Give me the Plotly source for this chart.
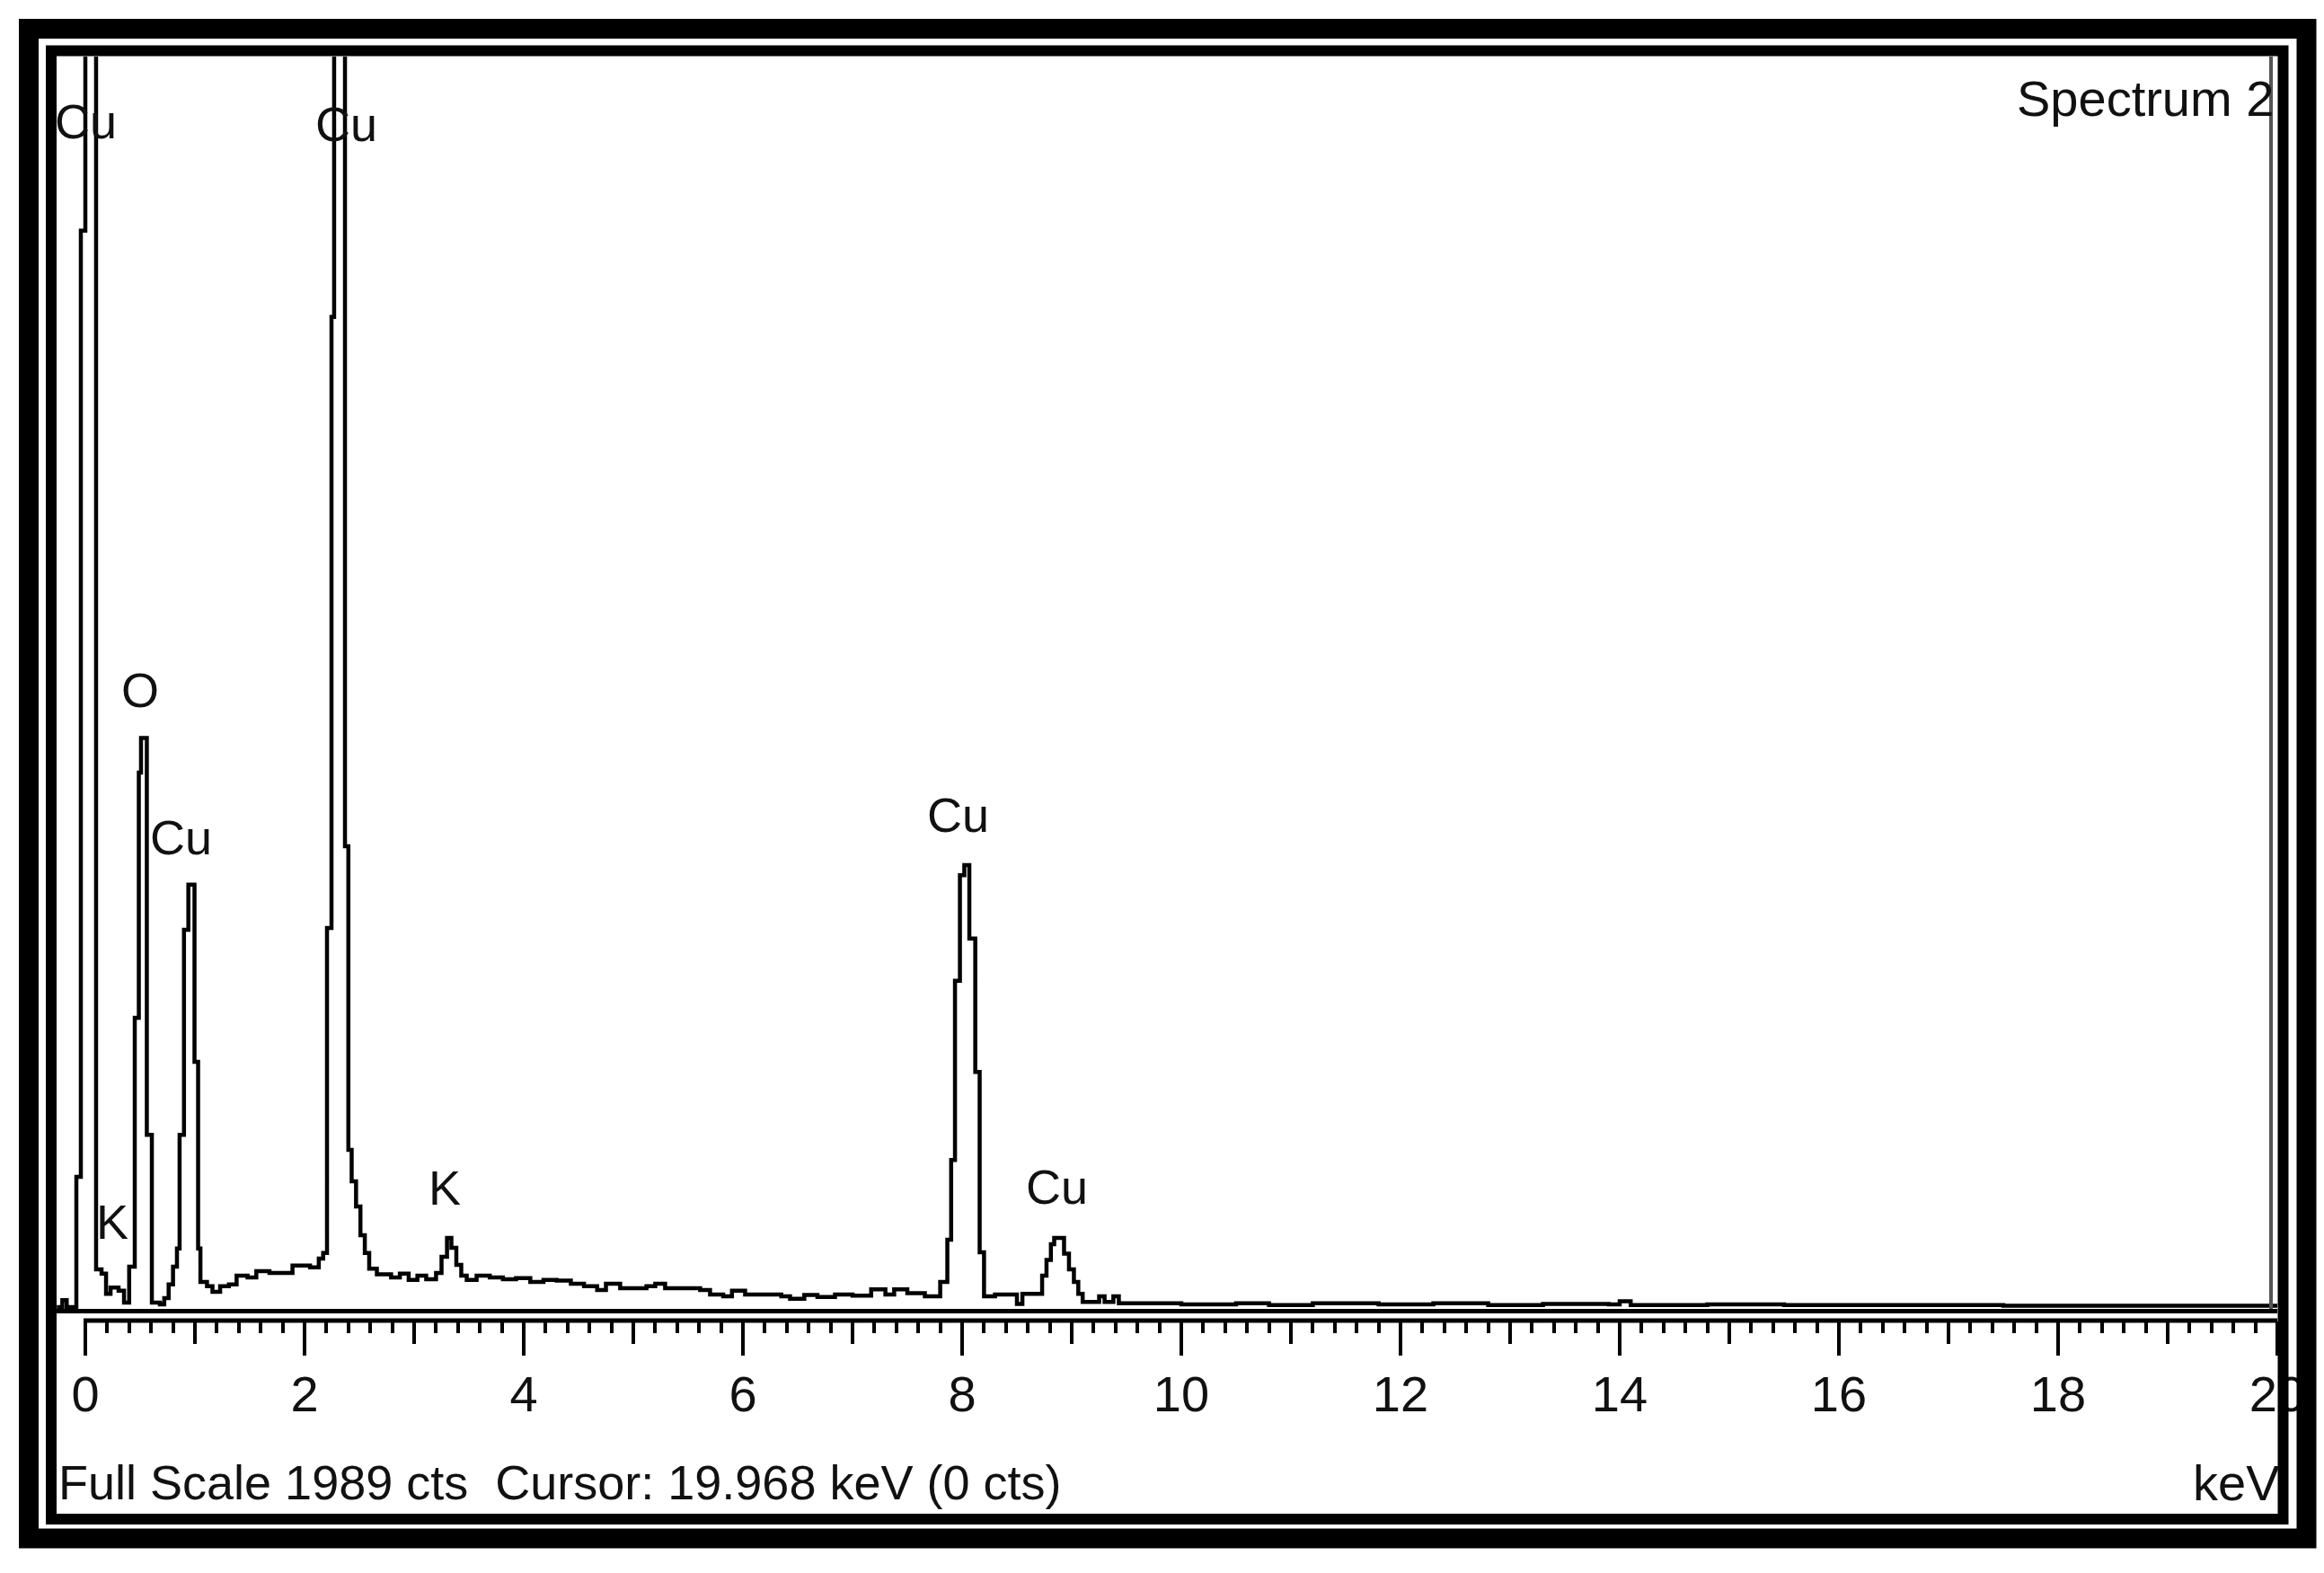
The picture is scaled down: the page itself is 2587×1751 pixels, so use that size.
import plotly.graph_objects as go

# ---------------- data ----------------
energy_kev = [-0.26, -0.21, -0.17, -0.082, -0.041, 0.0, 0.098, 0.148, 0.189, 0.23, 0.303,
              0.353, 0.40, 0.451, 0.488, 0.508, 0.561, 0.607, 0.68, 0.72, 0.76, 0.80,
              0.836, 0.86, 0.90, 0.94, 0.996, 1.029, 1.05, 1.11, 1.16, 1.23, 1.31, 1.38,
              1.48, 1.56, 1.68, 1.89, 2.05, 2.13, 2.17, 2.205, 2.246, 2.27, 2.369, 2.40,
              2.43, 2.47, 2.51, 2.55, 2.59, 2.66, 2.79, 2.87, 2.95, 3.03, 3.11, 3.20,
              3.25, 3.30, 3.34, 3.385, 3.43, 3.48, 3.57, 3.69, 3.81, 3.93, 4.06, 4.18,
              4.30, 4.43, 4.55, 4.67, 4.75, 4.88, 5.12, 5.20, 5.29, 5.61, 5.70, 5.82,
              5.90, 6.02, 6.35, 6.43, 6.56, 6.68, 6.84, 7.0, 7.17, 7.30, 7.38, 7.5,
              7.66, 7.80, 7.865, 7.90, 7.935, 7.98, 8.02, 8.066, 8.12, 8.16, 8.20, 8.30,
              8.40, 8.50, 8.55, 8.69, 8.73, 8.77, 8.81, 8.84, 8.93, 8.975, 9.02, 9.06,
              9.10, 9.2, 9.25, 9.30, 9.38, 9.43, 9.5, 10.0, 10.5, 10.8, 11.2, 11.8,
              12.3, 12.8, 13.3, 13.9, 14.0, 14.1, 14.8, 15.5, 16.5, 17.5, 18.5, 19.5,
              20.0]
counts = [0, 11, 0, 207, 1712, 5000, 60, 53, 21, 31, 26,
          7, 64, 460, 850, 905, 274, 7, 4, 14, 36, 64,
          93, 274, 600, 672, 390, 93, 40, 33, 24, 33, 36, 50,
          47, 57, 54, 66, 63, 77, 86, 603, 1575, 5000, 733, 250,
          200, 160, 114, 86, 61, 52, 47, 53, 43, 50, 44, 54,
          80, 110, 94, 67, 50, 43, 50, 47, 44, 46, 40, 43,
          42, 37, 33, 27, 37, 30, 33, 37, 30, 27, 20, 17,
          26, 20, 17, 13, 19, 16, 20, 18, 28, 20, 28, 22,
          17, 40, 107, 234, 519, 687, 703, 586, 374, 87, 17, 20,
          20, 5, 21, 21, 50, 75, 100, 110, 85, 60, 40, 21,
          8, 8, 17, 8, 17, 6, 6, 4, 6, 3, 6, 4,
          6, 3, 5, 4, 9, 3, 4, 3, 3, 2, 2, 2,
          2]

peak_labels = ["Cu", "Cu", "O", "Cu", "K", "K", "Cu", "Cu"]
peak_label_kev = [0.0, 2.385, 0.50, 0.877, 0.246, 3.279, 7.959, 8.861]
peak_label_cts = [1886, 1882, 982, 747, 136, 190, 783, 191]

major_ticks = [0, 2, 4, 6, 8, 10, 12, 14, 16, 18, 20]
mid_ticks = [1, 3, 5, 7, 9, 11, 13, 15, 17, 19]
minor_ticks = [round(0.2 * i, 1) for i in range(1, 100)]
full_scale = 1989
spectrum_name = "Spectrum 2"
footer_text = "Full Scale 1989 cts\u00a0\u00a0Cursor: 19.968 keV (0 cts)"
unit_text = "keV"

# ---------------- layout geometry ----------------
# page pixel coordinates; the html body adds an 8 px margin around the figure
OFF = 8
PAGE_W, PAGE_H = 2587, 1751
W, H = PAGE_W - 2 * OFF, PAGE_H - 2 * OFF
P_LEFT, P_RIGHT, P_TOP, P_BOT = 63, 2535, 63, 1470      # paper area (page px)
ML, MR, MT, MB = P_LEFT - OFF, W - (P_RIGHT - OFF), P_TOP - OFF, H - (P_BOT - OFF)
PW, PH = W - ML - MR, H - MT - MB


def px_x(px):
    return (px - P_LEFT) / PW


def px_y(py):
    return (P_BOT - py) / PH


FONT = "Liberation Sans, Arial, sans-serif"
px_per_kev = 122.0
x_lo = -(95 - P_LEFT) / px_per_kev
x_hi = x_lo + PW / px_per_kev

fig = go.Figure()
fig.add_trace(go.Scatter(x=energy_kev, y=counts, mode="lines",
                         line=dict(color="black", width=4.5, shape="hv"),
                         showlegend=False, hoverinfo="skip"))
# invisible traces so the ruler axes are drawn
fig.add_trace(go.Scatter(x=[0, 20], y=[None, None], xaxis="x2", yaxis="y",
                         mode="lines", showlegend=False, hoverinfo="skip"))
fig.add_trace(go.Scatter(x=[0, 20], y=[None, None], xaxis="x3", yaxis="y",
                         mode="lines", showlegend=False, hoverinfo="skip"))

annotations = []
for t, xk, yc in zip(peak_labels, peak_label_kev, peak_label_cts):
    annotations.append(dict(x=xk, y=yc, xref="x", yref="y", text=t, showarrow=False,
                            font=dict(family=FONT, size=54, color="#111"),
                            xanchor="center", yanchor="middle"))
annotations.append(dict(x=px_x(2533), y=px_y(109), xref="paper", yref="paper",
                        text=spectrum_name, showarrow=False,
                        font=dict(family=FONT, size=56, color="#111"),
                        xanchor="right", yanchor="middle"))
annotations.append(dict(x=px_x(63), y=px_y(1650), xref="paper", yref="paper",
                        text=footer_text, showarrow=False,
                        font=dict(family=FONT, size=54, color="#111"),
                        xanchor="left", yanchor="middle"))
annotations.append(dict(x=px_x(2540), y=px_y(1650), xref="paper", yref="paper",
                        text=unit_text, showarrow=False,
                        font=dict(family=FONT, size=56, color="#111"),
                        xanchor="right", yanchor="middle"))

shapes = [
    # outer thick frame
    dict(type="rect", xref="paper", yref="paper",
         x0=px_x(32), x1=px_x(2567.5), y0=px_y(1712.5), y1=px_y(32),
         line=dict(color="black", width=22), layer="above"),
    # inner frame
    dict(type="rect", xref="paper", yref="paper",
         x0=px_x(57), x1=px_x(2541.5), y0=px_y(1691), y1=px_y(56.5),
         line=dict(color="black", width=12), layer="above"),
    # right edge of spectrum window
    dict(type="line", xref="paper", yref="paper",
         x0=px_x(2528), x1=px_x(2528), y0=px_y(1457), y1=px_y(63),
         line=dict(color="#555", width=4), layer="above"),
    # ruler base line (starts at 0 keV)
    dict(type="line", xref="paper", yref="paper",
         x0=px_x(93), x1=px_x(2535), y0=px_y(1470), y1=px_y(1470),
         line=dict(color="black", width=5), layer="above"),
]

ruler_common = dict(overlaying="x", anchor="free", position=0, domain=[0, 1],
                    range=[x_lo, x_hi], showgrid=False, zeroline=False, showline=False)

fig.update_layout(
    width=W, height=H,
    margin=dict(l=ML, r=MR, t=MT, b=MB, autoexpand=False),
    paper_bgcolor="white", plot_bgcolor="white",
    showlegend=False,
    xaxis=dict(domain=[0, 1], range=[x_lo, x_hi], showgrid=False, zeroline=False,
               showline=True, linecolor="black", linewidth=5,
               showticklabels=False, ticks=""),
    xaxis2=dict(**ruler_common,
                tickmode="array", tickvals=major_ticks, ticktext=[str(v) for v in major_ticks],
                ticks="outside", ticklen=38, tickwidth=4, tickcolor="black",
                tickfont=dict(family=FONT, size=56, color="#111"),
                ticklabelstandoff=-5,
                minor=dict(tickmode="array", tickvals=minor_ticks, ticks="outside", ticklen=13,
                           tickwidth=4, tickcolor="black", showgrid=False)),
    xaxis3=dict(**ruler_common,
                tickmode="array", tickvals=mid_ticks, showticklabels=False,
                ticks="outside", ticklen=25, tickwidth=4, tickcolor="black"),
    yaxis=dict(domain=[px_y(1457), 1], range=[-3, full_scale], showgrid=False,
               zeroline=False, showline=False, showticklabels=False, ticks=""),
    annotations=annotations,
    shapes=shapes,
)

fig.write_html("out.html")
